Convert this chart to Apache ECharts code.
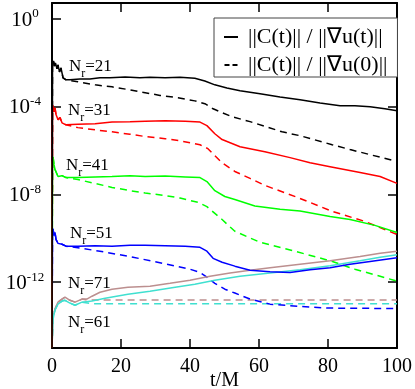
<!DOCTYPE html>
<html>
<head>
<meta charset="utf-8">
<script src="https://cdn.jsdelivr.net/npm/echarts@6/dist/echarts.min.js"></script>
<style>
  html, body { margin: 0; padding: 0; background: #fff; }
  #chart { width: 415px; height: 389px; }
</style>
</head>
<body>
<div id="chart"></div>
<script>
// t/M axis ticks and y (log) range
var xTicks = [0, 20, 40, 60, 80, 100];
var yMin = 1e-15, yMax = 5.4;
var yExpTicks = [-12, -8, -4, 0];

var legendSolid = '||C(t)|| / ||\u2207u(t)||';
var legendDashed = '||C(t)|| / ||\u2207u(0)||';

// N_r = 21 (black)
var early21 = [[0,1e-15],[0.15,9.0e-3],[0.43,1.23e-2],[0.72,7.2e-3],[1.0,1.0e-2],[1.45,5.4e-3],[1.74,8.1e-3],[2.17,3.9e-3],[2.6,5.9e-3],[3.2,2.1e-3],[4.1,1.7e-3]];
var solid21 = [[5.2,1.7e-3],[8.1,1.86e-3],[11.0,1.86e-3],[13.9,2.1e-3],[16.8,2.1e-3],[21.2,2.3e-3],[25.5,2.1e-3],[28.4,2.2e-3],[32.8,2.1e-3],[37.1,2.2e-3],[41.4,2.0e-3],[44.3,1.5e-3],[47.2,1.0e-3],[50.7,7.2e-4],[54.5,5.4e-4],[60.3,3.9e-4],[66.1,2.8e-4],[71.9,2.1e-4],[77.7,1.5e-4],[83.5,1.12e-4],[87.8,1.12e-4],[92.2,1.0e-4],[96.5,8.1e-5],[100,6.6e-5]];
var dashed21 = [[7.5,1.38e-3],[12.5,1.0e-3],[17.4,8.1e-4],[22.6,5.9e-4],[27.0,4.4e-4],[31.3,3.3e-4],[36.5,2.6e-4],[41.4,1.86e-4],[44.3,1.38e-4],[46.7,8.1e-5],[49.3,5.4e-5],[52.2,3.5e-5],[57.4,2.1e-5],[66.7,7.2e-6],[71.9,4.8e-6],[81.2,1.86e-6],[86.4,1.12e-6],[100,3.2e-7]];

// N_r = 31 (red)
var early31 = [[0,1e-15],[0.15,7.2e-5],[0.29,1.12e-4],[0.58,5.9e-5],[0.87,8.9e-5],[1.16,4.4e-5],[1.45,5.4e-5],[1.74,2.6e-5],[2.32,3.2e-5],[2.9,1.86e-5],[4.06,1.5e-5]];
var solid31 = [[7.5,1.58e-5],[12.5,1.7e-5],[17.4,2.0e-5],[22.6,2.1e-5],[27.0,2.2e-5],[32.8,2.3e-5],[38.6,2.2e-5],[42.9,2.0e-5],[44.9,1.38e-5],[47.2,5.9e-6],[49.3,3.2e-6],[54.5,1.5e-6],[61.7,8.9e-7],[69.0,4.8e-7],[74.8,2.8e-7],[80.6,1.86e-7],[89.3,1.0e-7],[95.1,6.6e-8],[100,3.2e-8]];
var dashed31 = [[7.5,1.12e-5],[12.5,8.9e-6],[17.4,7.2e-6],[22.6,5.6e-6],[27.0,4.4e-6],[32.8,3.5e-6],[37.1,2.8e-6],[42.9,1.86e-6],[45.2,1.23e-6],[47.2,5.9e-7],[49.3,2.8e-7],[53.0,1.12e-7],[57.4,5.4e-8],[61.7,2.6e-8],[71.3,7.2e-9],[81.2,1.7e-9],[90.7,5.9e-10],[100,1.5e-10]];

// N_r = 41 (green)
var early41 = [[0,1e-15],[0.15,2.3e-7],[0.29,5.4e-7],[0.58,2.3e-7],[0.87,1.38e-7],[1.16,1.7e-7],[1.74,6.6e-8],[2.9,7.2e-8],[4.06,5.9e-8]];
var solid41 = [[7.5,5.9e-8],[12.5,6.3e-8],[17.4,6.6e-8],[22.6,7.2e-8],[27.0,6.6e-8],[32.8,6.9e-8],[38.6,6.3e-8],[42.9,5.9e-8],[44.9,3.9e-8],[47.2,1.5e-8],[50.1,8.1e-9],[53.0,5.9e-9],[58.8,3.0e-9],[66.1,2.1e-9],[71.9,1.78e-9],[80.6,1.0e-9],[86.4,7.2e-10],[93.6,3.9e-10],[100,1.86e-10]];
var dashed41 = [[7.5,4.8e-8],[12.5,3.2e-8],[17.4,2.1e-8],[22.6,1.5e-8],[27.0,1.17e-8],[32.8,8.9e-9],[37.1,6.9e-9],[42.3,4.4e-9],[44.9,2.8e-9],[47.2,1.38e-9],[49.3,7.2e-10],[53.0,2.1e-10],[60.3,6.6e-11],[69.6,2.8e-11],[80.6,9.5e-12],[87.8,3.9e-12],[95.1,1.86e-12],[100,1.12e-12]];

// N_r = 51 (blue)
var early51 = [[0,1e-15],[0.15,1.5e-10],[0.29,2.8e-10],[0.58,1.38e-10],[0.87,1.86e-10],[1.16,8.9e-11],[1.74,5.9e-11],[2.9,5.4e-11],[4.06,4.4e-11]];
var solid51 = [[7.5,4.4e-11],[12.5,4.6e-11],[17.4,4.4e-11],[22.6,4.8e-11],[27.0,4.8e-11],[32.8,4.6e-11],[38.6,4.4e-11],[42.9,3.9e-11],[44.9,2.6e-11],[46.7,1.23e-11],[49.3,8.1e-12],[53.0,5.4e-12],[57.4,3.5e-12],[63.2,3.0e-12],[69.0,2.8e-12],[74.8,3.7e-12],[80.6,4.6e-12],[86.4,6.6e-12],[92.2,8.9e-12],[100,1.29e-11]];
var dashed51 = [[7.5,3.7e-11],[13.9,2.6e-11],[23.5,1.38e-11],[33.3,6.6e-12],[40.0,3.9e-12],[42.9,2.8e-12],[44.9,1.7e-12],[47.2,8.9e-13],[50.1,4.8e-13],[53.0,3.2e-13],[57.4,1.7e-13],[63.2,1.0e-13],[71.9,7.8e-14],[80.6,6.6e-14],[100,6.3e-14]];

// N_r = 61 (turquoise)
var early61 = [[0,1e-15],[0.29,2.1e-14],[0.87,5.4e-14],[1.74,1.0e-13],[2.9,1.38e-13],[3.77,1.5e-13],[5.2,1.12e-13],[6.67,8.9e-14],[8.7,1.23e-13]];
var solid61 = [[11.6,1.38e-13],[15.4,1.86e-13],[22.0,2.8e-13],[28.4,3.9e-13],[35.7,5.9e-13],[41.4,8.1e-13],[47.2,1.23e-12],[54.5,1.86e-12],[63.2,2.6e-12],[71.9,3.7e-12],[80.6,5.6e-12],[89.3,9.5e-12],[95.1,1.38e-11],[100,1.78e-11]];
var dashed61 = [[11.6,1.05e-13],[30,1.05e-13],[60,1.05e-13],[100,1.05e-13]];

// N_r = 71 (rosy brown)
var early71 = [[0,1e-15],[0.29,2.8e-14],[0.87,5.9e-14],[1.74,1.23e-13],[2.9,1.7e-13],[3.77,2.1e-13],[5.2,1.5e-13],[6.67,1.23e-13],[8.7,1.7e-13]];
var solid71 = [[10.1,1.7e-13],[11.6,2.3e-13],[13.9,3.5e-13],[17.4,4.8e-13],[22.0,5.9e-13],[28.4,6.6e-13],[34.2,8.9e-13],[40.0,1.23e-12],[45.8,1.86e-12],[51.6,2.6e-12],[57.4,3.5e-12],[63.2,4.6e-12],[71.9,6.6e-12],[80.6,9.5e-12],[89.3,1.5e-11],[95.1,2.1e-11],[100,2.6e-11]];
var dashed71 = [[10.1,1.55e-13],[30,1.55e-13],[60,1.55e-13],[100,1.55e-13]];

var serif = 'Liberation Serif';

function curve(name, color, early, tail, dashed) {
  return {
    name: name,
    type: 'line',
    yAxisIndex: 0,
    showSymbol: false,
    symbol: 'none',
    animation: false,
    data: early.concat(tail),
    itemStyle: { color: color },
    lineStyle: { color: color, width: 1.5, type: dashed ? [7, 5] : 'solid' }
  };
}

function nLabel(num, x, y) {
  return {
    type: 'text',
    left: x,
    top: y,
    style: {
      text: '{n|N}{r|r}{n|=' + num + '}',
      rich: {
        n: { fontFamily: serif, fontSize: 17, color: '#000', verticalAlign: 'top', lineHeight: 20 },
        r: { fontFamily: serif, fontSize: 12, color: '#000', verticalAlign: 'top', padding: [10, 0, 0, 0] }
      }
    }
  };
}

var chart = echarts.init(document.getElementById('chart'));

chart.setOption({
  backgroundColor: '#fff',
  animation: false,
  textStyle: { fontFamily: serif },
  grid: { left: 52, right: 18, top: 3, bottom: 41, containLabel: false, outerBoundsMode: 'none' },
  legend: {
    left: 214,
    top: 18,
    orient: 'vertical',
    selectedMode: false,
    itemWidth: 14,
    itemHeight: 2,
    itemGap: 4,
    padding: [7, 10, 0, 10],
    borderColor: '#444',
    borderWidth: 1,
    backgroundColor: '#fff',
    itemStyle: { color: '#000', borderWidth: 0 },
    textStyle: { fontFamily: serif, fontSize: 22, color: '#000', lineHeight: 24, padding: [0, 0, 0, 5] },
    data: [
      { name: legendSolid, icon: 'rect' },
      { name: legendDashed, icon: 'path://M0,0h5v2h-5z M8,0h5v2h-5z' }
    ]
  },
  xAxis: [
    {
      type: 'value', min: 0, max: 100, interval: 20, position: 'bottom',
      name: 't/M', nameLocation: 'middle', nameGap: 23, nameMoveOverlap: false,
      nameTextStyle: { fontFamily: serif, fontSize: 20, color: '#000' },
      axisLine: { onZero: false, lineStyle: { color: '#000', width: 2 } },
      axisTick: { inside: true, length: 9, lineStyle: { color: '#000', width: 1.5 } },
      axisLabel: {
        fontFamily: serif, fontSize: 20, color: '#000', margin: 9,
        formatter: function (v) { return xTicks.indexOf(v) >= 0 ? String(v) : ''; }
      },
      splitLine: { show: false }
    },
    {
      type: 'value', min: 0, max: 100, interval: 20, position: 'top',
      axisLine: { onZero: false, lineStyle: { color: '#000', width: 2 } },
      axisTick: { inside: true, length: 9, lineStyle: { color: '#000', width: 1.5 } },
      axisLabel: { show: false },
      splitLine: { show: false }
    }
  ],
  yAxis: [
    {
      type: 'log', logBase: 10, min: yMin, max: yMax, position: 'left',
      axisLine: { show: false, onZero: false }, axisTick: { show: false },
      axisLabel: { show: false }, splitLine: { show: false }
    },
    {
      type: 'value', min: Math.log10(yMin), max: Math.log10(yMax), position: 'left',
      axisLine: { show: true, onZero: false, lineStyle: { color: '#000', width: 2 } },
      axisTick: { inside: true, length: 9, customValues: yExpTicks, lineStyle: { color: '#000', width: 1.5 } },
      axisLabel: {
        customValues: yExpTicks,
        margin: 27,
        align: 'center',
        formatter: function (v) { return '{b|10}{s|' + v + '}'; },
        rich: {
          b: { fontFamily: serif, fontSize: 21, color: '#000', verticalAlign: 'bottom' },
          s: { fontFamily: serif, fontSize: 13, color: '#000', verticalAlign: 'bottom', padding: [0, 0, 10, 0] }
        }
      },
      splitLine: { show: false }
    },
    {
      type: 'value', min: Math.log10(yMin), max: Math.log10(yMax), position: 'right',
      axisLine: { show: true, onZero: false, lineStyle: { color: '#000', width: 2 } },
      axisTick: { inside: true, length: 9, customValues: yExpTicks, lineStyle: { color: '#000', width: 1.5 } },
      axisLabel: { show: false },
      splitLine: { show: false }
    }
  ],
  graphic: [
    nLabel(21, 69, 58),
    nLabel(31, 68, 102),
    nLabel(41, 66, 157),
    nLabel(51, 70, 225),
    nLabel(71, 68, 275),
    nLabel(61, 68, 314)
  ],
  series: [
    curve(legendSolid, '#000000', [], [], false),
    curve(legendDashed, '#000000', [], [], true),
    curve('N71 dashed', '#bc8f8f', early71, dashed71, true),
    curve('N61 dashed', '#40e0d0', early61, dashed61, true),
    curve('N51 dashed', '#0000ff', early51, dashed51, true),
    curve('N41 dashed', '#00ff00', early41, dashed41, true),
    curve('N31 dashed', '#ff0000', early31, dashed31, true),
    curve('N21 dashed', '#000000', early21, dashed21, true),
    curve('N71', '#bc8f8f', early71, solid71, false),
    curve('N61', '#40e0d0', early61, solid61, false),
    curve('N51', '#0000ff', early51, solid51, false),
    curve('N41', '#00ff00', early41, solid41, false),
    curve('N31', '#ff0000', early31, solid31, false),
    curve('N21', '#000000', early21, solid21, false)
  ]
});
</script>
</body>
</html>
